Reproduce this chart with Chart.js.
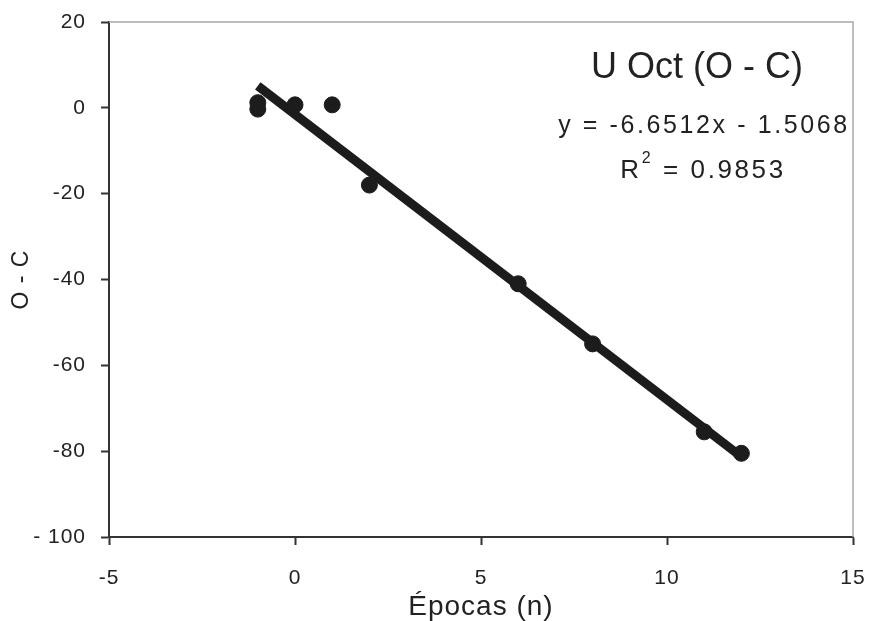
<!DOCTYPE html>
<html>
<head>
<meta charset="utf-8">
<script src="https://cdn.jsdelivr.net/npm/chart.js@4/dist/chart.umd.min.js"></script>
<style>
  html, body { margin: 0; padding: 0; background: #ffffff; }
  #wrap { width: 869px; height: 621px; }
</style>
</head>
<body>
<div id="wrap"><canvas id="c" width="869" height="621"></canvas></div>
<script>
// Observed epochs (n) and O - C values
const epochs = [-1, -1, 0, 1, 2, 6, 8, 11, 12];
const oMinusC = [1.2, -0.3, 0.7, 0.7, -18, -41, -55, -75.5, -80.5];

// Trendline end points
const trendX = [-1, 12];
const trendY = [5.1, -81.3];

// Tick labels
const xTickLabels = { '-5': '-5', '0': '0', '5': '5', '10': '10', '15': '15' };
const yTickLabels = { '20': '20', '0': '0', '-20': '-20', '-40': '-40', '-60': '-60', '-80': '-80', '-100': '- 100' };

// Text annotations
const chartTitle = 'U Oct (O - C)';
const equationText = 'y = -6.6512x - 1.5068';
const r2Value = ' = 0.9853';

const FONT = '"Liberation Sans", Arial, sans-serif';
const INK = '#1c1c1c';

const pointData = epochs.map((x, i) => ({ x: x, y: oMinusC[i] }));
const trendData = trendX.map((x, i) => ({ x: x, y: trendY[i] }));

const framePlugin = {
  id: 'frame',
  beforeDraw(chart) {
    chart.ctx.letterSpacing = '1px';
  },
  beforeDatasetsDraw(chart) {
    const { ctx, chartArea: a } = chart;
    ctx.save();
    ctx.strokeStyle = '#a8a8a8';
    ctx.lineWidth = 1.5;
    ctx.beginPath();
    ctx.moveTo(a.left, a.top);
    ctx.lineTo(a.right, a.top);
    ctx.lineTo(a.right, a.bottom);
    ctx.stroke();
    ctx.restore();
  },
  afterDraw(chart) {
    const { ctx } = chart;
    ctx.save();
    ctx.fillStyle = '#222';
    ctx.textBaseline = 'middle';
    ctx.textAlign = 'center';
    ctx.letterSpacing = '0px';
    ctx.font = '36px ' + FONT;
    ctx.fillText(chartTitle, 697, 68);
    ctx.letterSpacing = '2.6px';
    ctx.font = '25px ' + FONT;
    ctx.fillText(equationText, 704, 126);
    // R^2 line
    const r = 'R';
    const rest = r2Value;
    ctx.font = '26px ' + FONT;
    const wR = ctx.measureText(r).width;
    ctx.font = '16px ' + FONT;
    const wS = ctx.measureText('2').width;
    ctx.font = '26px ' + FONT;
    const wRest = ctx.measureText(rest).width;
    const total = wR + wS + wRest;
    let x0 = 703 - total / 2;
    ctx.textAlign = 'left';
    ctx.fillText(r, x0, 171);
    ctx.font = '16px ' + FONT;
    ctx.fillText('2', x0 + wR, 159);
    ctx.font = '26px ' + FONT;
    ctx.fillText(rest, x0 + wR + wS, 171);
    ctx.restore();
  }
};

new Chart(document.getElementById('c'), {
  type: 'scatter',
  data: {
    datasets: [
      {
        label: 'Tendencia',
        type: 'line',
        data: trendData,
        borderColor: INK,
        borderWidth: 9,
        pointRadius: 0,
        fill: false,
        tension: 0,
        order: 2
      },
      {
        label: 'O - C',
        data: pointData,
        backgroundColor: INK,
        borderColor: INK,
        pointRadius: 8,
        pointHoverRadius: 8,
        order: 1
      }
    ]
  },
  options: {
    responsive: false,
    animation: false,
    devicePixelRatio: 1,
    layout: { padding: { left: 8, right: 16, top: 22, bottom: 0 } },
    plugins: {
      legend: { display: false },
      tooltip: { enabled: false },
      title: { display: false }
    },
    scales: {
      x: {
        type: 'linear',
        min: -5,
        max: 15,
        afterFit(scale) {
          scale.height = 621 - 537;
          scale.paddingRight = 0;
          scale.paddingLeft = 0;
        },
        ticks: {
          stepSize: 5,
          color: '#222',
          font: { family: FONT, size: 21 },
          padding: 21,
          callback: (v) => xTickLabels[String(v)] ?? String(v)
        },
        grid: {
          drawOnChartArea: false,
          drawTicks: true,
          tickLength: 8,
          tickColor: '#333',
          tickWidth: 2
        },
        border: { display: true, color: '#333', width: 2 },
        title: {
          display: true,
          text: 'Épocas (n)',
          color: '#222',
          font: { family: FONT, size: 28 },
          padding: { top: 0, bottom: -3 }
        }
      },
      y: {
        type: 'linear',
        min: -100,
        max: 20,
        afterFit(scale) {
          scale.width = 109 - 8;
          scale.paddingTop = 0;
          scale.paddingBottom = 0;
        },
        ticks: {
          stepSize: 20,
          color: '#222',
          font: { family: FONT, size: 21 },
          padding: 15,
          callback: (v) => yTickLabels[String(v)] ?? String(v)
        },
        grid: {
          drawOnChartArea: false,
          drawTicks: true,
          tickLength: 8,
          tickColor: '#333',
          tickWidth: 2
        },
        border: { display: true, color: '#333', width: 2 },
        title: {
          display: true,
          text: 'O - C',
          color: '#222',
          font: { family: FONT, size: 23 },
          padding: { top: 0, bottom: 0 }
        }
      }
    }
  },
  plugins: [framePlugin]
});
</script>
</body>
</html>
